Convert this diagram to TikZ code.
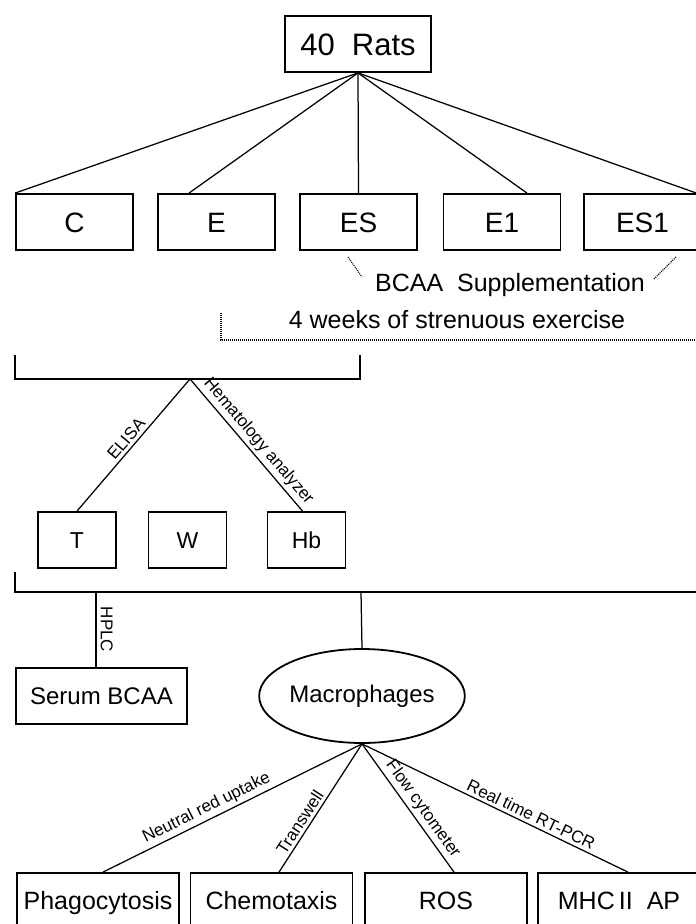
\documentclass[tikz,border=0pt]{standalone}
\usepackage{fontspec}
\setmainfont{Liberation Sans}
\usetikzlibrary{shapes.geometric,calc}
\begin{document}
\begin{tikzpicture}[x=1pt,y=-1pt,
  box/.style={draw, line width=1.8pt, inner sep=0pt, minimum height=56pt},
  conn/.style={line width=1.25pt},
  dots/.style={line width=1.1pt, dash pattern=on 1pt off 1pt},
  lab/.style={font=\fontsize{17}{17}\selectfont, inner sep=3pt},
  top/.style={font=\fontsize{31}{31}\selectfont, text height=29.9pt, text depth=7.75pt},
  big/.style={font=\fontsize{28}{28}\selectfont, text height=27pt, text depth=7pt},
  mid/.style={font=\fontsize{23}{23}\selectfont, text height=22.2pt, text depth=5.75pt},
  sb/.style={font=\fontsize{24}{24}\selectfont, text height=23.2pt, text depth=6pt},
  bot/.style={font=\fontsize{25}{25}\selectfont, text height=24.15pt, text depth=6.25pt},
  note/.style={font=\fontsize{25}{25}\selectfont, inner sep=0pt},
]
\useasboundingbox (0,0) rectangle (696,924);

% top
\node[box, top, minimum width=146pt] (rats) at (358,44) {40\ \ Rats};

% groups
\node[box, big, minimum width=117pt] (C)   at (74.5,222) {C};
\node[box, big, minimum width=117pt] (E)   at (216.5,222) {E};
\node[box, big, minimum width=117pt] (ES)  at (358.5,222) {ES};
\node[box, big, minimum width=117pt] (E1)  at (502,222) {E1};
\node[box, big, minimum width=117pt] (ES1) at (642.5,222) {ES1};

\draw[conn] (rats.south) -- (C.north west);
\draw[conn] (rats.south) -- ([xshift=-27.5pt]E.north);
\draw[conn] (rats.south) -- (ES.north);
\draw[conn] (rats.south) -- ([xshift=25pt]E1.north);
\draw[conn] (rats.south) -- ([xshift=54pt]ES1.north);

% BCAA supplementation
\node[note] (bcaa) at (510,285) {BCAA\ \ Supplementation};
\coordinate (d1a) at (348,257);
\coordinate (d1b) at (362,277);
\coordinate (d2a) at (676,257);
\coordinate (d2b) at (654,279);
\draw[dots] (d1a) -- (d1b);
\draw[dots] (d2a) -- (d2b);

% exercise
\node[note] (weeks) at (457,320) {4 weeks of strenuous exercise};
\coordinate (w1) at (221,313);
\coordinate (w2) at (221,340);
\coordinate (w3) at (700,340);
\draw[dots] (w1) -- (w2) -- (w3);

% bracket 1
\coordinate (b1l) at (15,355);
\coordinate (b1a) at (190,379);
\coordinate (b1r) at (360,355);
\draw[conn] (b1l) |- (b1a) -| (b1r);

\node[box, mid, minimum width=78pt] (T)  at (77,540) {T};
\node[box, mid, minimum width=78pt] (W)  at (187.5,540) {W};
\node[box, mid, minimum width=78pt] (Hb) at (306.5,540) {Hb};

\draw[conn] (b1a) -- node[lab, sloped, above, pos=0.5] {ELISA} (T.north);
\draw[conn] (b1a) -- node[lab, sloped, above, pos=0.53] {Hematology analyzer} ([xshift=-4pt]Hb.north);

% bracket 2
\coordinate (b2l) at (15,572);
\coordinate (b2r) at (700,592);
\coordinate (h1) at (96,592);
\coordinate (m1) at (361,592);
\draw[conn] (b2l) |- (b2r);

\node[box, sb, minimum width=171pt] (serum) at (101.5,696) {Serum BCAA};
\node[draw, ellipse, line width=1.8pt, inner sep=0pt, minimum width=202pt, minimum height=94pt,
      font=\fontsize{24}{24}\selectfont] (mac) at (362,696) {Macrophages};

\draw[conn] (h1) -- (h1 |- serum.north) node[midway, lab, rotate=-90, anchor=south, inner sep=4pt] {HPLC};
\draw[conn] (m1) -- (mac.north);

% assays
\node[box, bot, minimum width=162pt] (pha) at (98,901) {Phagocytosis};
\node[box, bot, minimum width=162pt] (che) at (271.5,901) {Chemotaxis};
\node[box, bot, minimum width=162pt] (ros) at (446,901) {ROS};
\node[box, bot, minimum width=162pt] (mhc) at (619,901) {MHC\,II\ \ AP};

\draw[conn] (mac.south) -- node[lab, sloped, above, pos=0.58] {Neutral red uptake} ([xshift=5pt]pha.north);
\draw[conn] (mac.south) -- node[lab, sloped, above, pos=0.65] {Transwell} ([xshift=7.5pt]che.north);
\draw[conn] (mac.south) -- node[lab, sloped, above, pos=0.56] {Flow cytometer} ([xshift=8pt]ros.north);
\draw[conn] (mac.south) -- node[lab, sloped, above, pos=0.62] {Real time RT-PCR} ([xshift=9pt]mhc.north);
\end{tikzpicture}
\end{document}
